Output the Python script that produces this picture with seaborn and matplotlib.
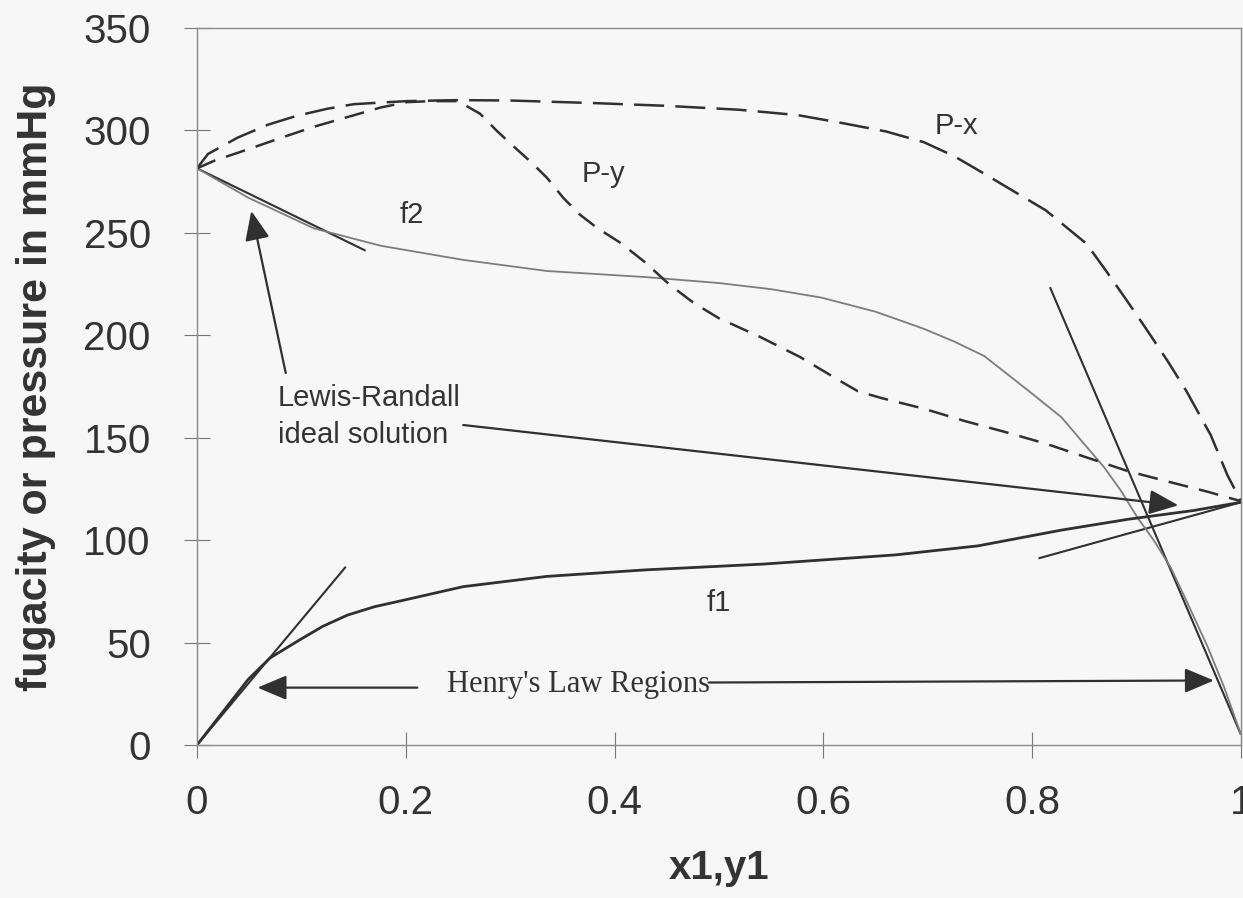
import matplotlib
matplotlib.use("Agg")
import matplotlib.pyplot as plt
import pandas as pd
import seaborn as sns

# Bubble-point curve (P-x), mmHg
px_x = [0.0, 0.0105, 0.039, 0.068, 0.096, 0.125, 0.15, 0.176, 0.201, 0.25, 0.3,
        0.383, 0.45, 0.519, 0.575, 0.617, 0.66, 0.696, 0.725, 0.754, 0.78, 0.813,
        0.852, 0.87, 0.891, 0.91, 0.93, 0.948, 0.971, 0.987, 1.0]
px_p = [281.5, 288.5, 296.5, 302.8, 307.2, 310.6, 312.8, 313.6, 314.3, 314.8, 314.6,
        313.3, 312.0, 310.1, 307.5, 303.7, 299.5, 294.3, 287.5, 278.9, 271.0, 261.0,
        244.7, 232.0, 216.7, 202.5, 187.2, 172.5, 151.3, 131.7, 119.0]

# Dew-point curve (P-y), mmHg
py_y = [0.0, 0.017, 0.049, 0.08, 0.112, 0.144, 0.176, 0.201, 0.224, 0.25, 0.271,
        0.287, 0.303, 0.319, 0.335, 0.351, 0.367, 0.383, 0.406, 0.429, 0.452,
        0.476, 0.5, 0.539, 0.578, 0.617, 0.633, 0.656, 0.696, 0.735, 0.774,
        0.813, 0.852, 0.891, 0.93, 0.969, 1.0]
py_p = [281.5, 285.3, 290.8, 296.3, 301.8, 306.5, 311.2, 313.8, 314.3, 314.3, 308.2,
        299.9, 292.3, 285.0, 277.0, 267.0, 258.8, 252.5, 245.0, 235.7, 225.0,
        215.7, 208.3, 199.3, 189.3, 177.4, 172.7, 169.3, 164.2, 158.2, 152.8,
        147.1, 140.4, 133.8, 128.6, 123.5, 119.0]

# Fugacity of component 1
f1_x = [0.0, 0.049, 0.07, 0.096, 0.12, 0.144, 0.17, 0.192, 0.255, 0.335, 0.43,
        0.542, 0.669, 0.748, 0.828, 0.892, 0.955, 1.0]
f1_val = [0.0, 32.0, 42.5, 50.6, 57.8, 63.4, 67.5, 70.0, 77.3, 82.3, 85.5,
          88.3, 92.8, 97.2, 104.9, 110.2, 114.5, 118.5]

# Fugacity of component 2
f2_x = [0.0, 0.049, 0.112, 0.176, 0.255, 0.335, 0.43, 0.5, 0.55, 0.598, 0.65,
        0.696, 0.725, 0.754, 0.796, 0.828, 0.85, 0.869, 0.885, 0.901, 0.917,
        0.933, 0.949, 0.968, 0.984, 1.0]
f2_val = [281.5, 267.2, 252.2, 243.7, 236.8, 231.4, 228.4, 225.5, 222.5, 218.4, 211.5,
          203.2, 197.0, 189.9, 173.1, 160.0, 146.8, 135.5, 124.1, 110.9, 99.5,
          86.3, 69.0, 48.0, 28.0, 5.0]

# Limiting tangents: Lewis-Randall (ideal solution) and Henry's law
lr2_x, lr2_f = [0.0, 0.1615], [281.5, 241.3]
lr1_x, lr1_f = [0.806, 1.0], [91.1, 118.5]
h1_x, h1_f = [0.0, 0.1425], [0.0, 87.0]
h2_x, h2_f = [0.817, 1.0], [223.5, 5.0]

x_ticks = [0.0, 0.2, 0.4, 0.6, 0.8, 1.0]
x_tick_labels = ["0", "0.2", "0.4", "0.6", "0.8", "1"]
y_ticks = [0, 50, 100, 150, 200, 250, 300, 350]
y_tick_labels = ["0", "50", "100", "150", "200", "250", "300", "350"]

sns.set_theme(style="white")
plt.rcParams["font.family"] = ["Liberation Sans", "DejaVu Sans"]

BG = "#f7f7f7"
INK = "#303030"
TXT = "#333333"

fig = plt.figure(figsize=(12.43, 8.98), dpi=100, facecolor=BG)
ax = fig.add_axes([197 / 1243, 153 / 898, 1044 / 1243, 717 / 898], facecolor=BG)


def draw(xs, ys, color, lw, dashes=None):
    df = pd.DataFrame({"x": xs, "y": ys})
    sns.lineplot(data=df, x="x", y="y", ax=ax, color=color, lw=lw,
                 estimator=None, sort=False, legend=False)
    line = ax.lines[-1]
    line.set_solid_capstyle("butt")
    line.set_solid_joinstyle("round")
    if dashes is not None:
        line.set_dashes(dashes)
        line.set_dash_capstyle("butt")
        line.set_dash_joinstyle("round")
    return line


# Reference tangent lines
draw(lr2_x, lr2_f, INK, 1.5)
draw(lr1_x, lr1_f, INK, 1.5)
draw(h1_x, h1_f, INK, 1.5)
draw(h2_x, h2_f, INK, 1.5)

# Fugacities
draw(f2_x, f2_val, "#7c7c7c", 1.3)
draw(f1_x, f1_val, INK, 2.0)

# Vapour-liquid equilibrium curves
draw(px_x, px_p, INK, 1.8, dashes=(12, 4.5))
draw(py_y, py_p, INK, 1.8, dashes=(8, 4.5))

ax.set_xlim(0, 1)
ax.set_ylim(0, 350)
ax.set_xticks(x_ticks)
ax.set_xticklabels(x_tick_labels)
ax.set_yticks(y_ticks)
ax.set_yticklabels(y_tick_labels)

ax.tick_params(direction="inout", length=18.5, width=0.8, color="#777777",
               labelsize=29, labelcolor=TXT)
ax.tick_params(axis="x", pad=19)
ax.tick_params(axis="y", pad=24)
ax.xaxis.set_ticks_position("bottom")
ax.yaxis.set_ticks_position("left")

for side in ["left", "bottom", "top", "right"]:
    ax.spines[side].set_visible(True)
    ax.spines[side].set_color("#8a8a8a")
    ax.spines[side].set_linewidth(1.0)

ax.set_xlabel("x1,y1", fontsize=29, fontweight="bold", color=TXT)
ax.set_ylabel("fugacity or pressure in mmHg", fontsize=31, fontweight="bold", color=TXT)
ax.xaxis.set_label_coords(0.5, -0.145)
ax.yaxis.set_label_coords(-0.135, 0.5)

# Curve labels
lab = dict(fontsize=21, color=TXT, ha="center", va="center")
ax.text(0.206, 258.8, "f2", **lab)
ax.text(0.389, 278.9, "P-y", **lab)
ax.text(0.727, 302.0, "P-x", **lab)
ax.text(0.5, 69.3, "f1", **lab)

# Lewis-Randall annotation
ax.text(0.0773, 165.4, "Lewis-Randall", fontsize=21, color=TXT, ha="left", va="baseline")
ax.text(0.0773, 147.5, "ideal solution", fontsize=21, color=TXT, ha="left", va="baseline")

arrow = dict(arrowstyle="-|>,head_length=0.9,head_width=0.38", mutation_scale=20,
             color=INK, lw=1.6, shrinkA=0, shrinkB=0)
ax.annotate("", xy=(0.052, 260.7), xytext=(0.085, 181.6), arrowprops=arrow)
ax.annotate("", xy=(0.94, 117.0), xytext=(0.255, 156.2), arrowprops=arrow)

# Henry's law annotation
ax.text(0.2395, 26.0, "Henry's Law Regions", fontsize=22, color=TXT,
        family=["Liberation Serif", "DejaVu Serif"], ha="left", va="baseline")
ax.annotate("", xy=(0.058, 28.0), xytext=(0.211, 28.0), arrowprops=arrow)
ax.annotate("", xy=(0.974, 31.5), xytext=(0.49, 30.5), arrowprops=arrow)

fig.savefig("out.png", dpi=100, facecolor=BG)
